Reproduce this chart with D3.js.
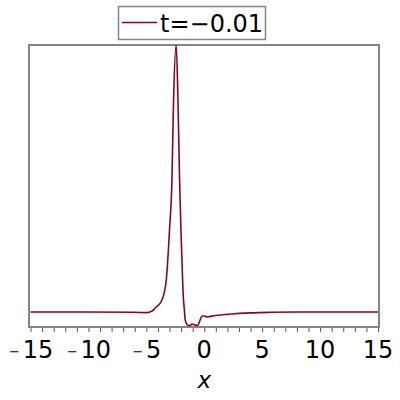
<!DOCTYPE html>
<html>
<head>
<meta charset="utf-8">
<script src="https://cdn.jsdelivr.net/npm/d3@7"></script>
<style>
  body { margin: 0; background: #fff; }
  svg text { font-family: "DejaVu Sans", sans-serif; }
</style>
</head>
<body>
<div id="chart"></div>
<script>
// curve samples
const xValues = [-15, -10, -6, -5, -4.5, -4.23, -3.65, -3.28, -3.0, -2.79, -2.65, -2.42,
                 -2.27, -2.13, -2.01, -1.87, -1.79, -1.73, -1.64, -1.44, -1.25, -1.04,
                 -0.78, -0.56, -0.39, -0.2, 0, 0.23, 0.95, 2.25, 4, 5.7, 8, 15];
const yValues = [0, 0, -0.001, -0.002, 0.004, 0.015, 0.045, 0.12, 0.307, 0.494, 0.794, 1.0,
                 0.794, 0.494, 0.307, 0.12, 0.045, 0.015, -0.03, -0.049, -0.051, -0.045,
                 -0.049, -0.05, -0.034, -0.015, -0.015, -0.018, -0.013, -0.0075, -0.003, -0.001, 0, 0];
const xTicks = [-15, -10, -5, 0, 5, 10, 15];
const legendLabel = "t=\u22120.01";
const xLabel = "x";

const width = 400, height = 400;
const plotLeft = 29, plotRight = 379, plotTop = 45, plotBottom = 327;
const lineColor = "#7f0a1f";
const frameColor = "#858585";

const svg = d3.select("#chart").append("svg")
    .attr("width", width)
    .attr("height", height);

const x = d3.scaleLinear().domain([-15, 15]).range([30.5, 378]);
const y = d3.scaleLinear().domain([-0.056, 1]).range([plotBottom, plotTop]);

const data = xValues.map((v, i) => ({x: v, y: yValues[i]}));

// frame
svg.append("rect")
    .attr("x", plotLeft).attr("y", plotTop)
    .attr("width", plotRight - plotLeft).attr("height", plotBottom - plotTop)
    .attr("fill", "none")
    .attr("stroke", frameColor)
    .attr("stroke-width", 2);

// minor ticks
svg.append("g")
    .attr("transform", `translate(0,${plotBottom + 1})`)
    .call(d3.axisBottom(x).tickValues(d3.range(-15, 16, 1)).tickSize(4).tickFormat(""))
    .call(g => g.select(".domain").remove())
    .call(g => g.selectAll("line").attr("stroke", "#555"));

// major tick labels (small minus set apart like the original)
const tickText = svg.append("g")
    .selectAll("text")
    .data(xTicks)
    .enter().append("text")
    .attr("x", d => x(d) + (d < 0 ? 0.6 : 0))
    .attr("y", 357.5)
    .attr("text-anchor", "middle")
    .attr("font-size", 24)
    .attr("fill", "#000");
tickText.filter(d => d < 0).append("tspan")
    .attr("font-size", 13)
    .attr("dy", -2)
    .text("\u2212");
tickText.append("tspan")
    .attr("dx", d => d < 0 ? 2.7 : 0)
    .attr("dy", d => d < 0 ? 2 : 0)
    .text(d => Math.abs(d));

svg.append("text")
    .attr("x", x(0))
    .attr("y", 388)
    .attr("text-anchor", "middle")
    .attr("font-size", 23)
    .attr("font-style", "italic")
    .text(xLabel);

// curve
const line = d3.line()
    .x(d => x(d.x))
    .y(d => y(d.y))
    .curve(d3.curveMonotoneX);

svg.append("path")
    .datum(data)
    .attr("d", line)
    .attr("fill", "none")
    .attr("stroke", lineColor)
    .attr("stroke-width", 1.6);

// legend
const legend = svg.append("g");
legend.append("rect")
    .attr("x", 118.5).attr("y", 6.5)
    .attr("width", 147).attr("height", 33)
    .attr("fill", "#fff")
    .attr("stroke", frameColor)
    .attr("stroke-width", 1.5);
legend.append("line")
    .attr("x1", 122).attr("x2", 157)
    .attr("y1", 22.5).attr("y2", 22.5)
    .attr("stroke", lineColor)
    .attr("stroke-width", 1.6);
legend.append("text")
    .attr("x", 160)
    .attr("y", 32)
    .attr("font-size", 24)
    .text(legendLabel);
</script>
</body>
</html>
